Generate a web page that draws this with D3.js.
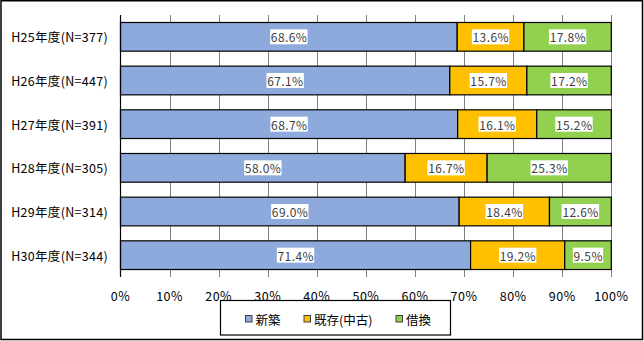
<!DOCTYPE html>
<html>
<head>
<meta charset="utf-8">
<script src="https://cdn.jsdelivr.net/npm/d3@7"></script>
<style>
  html, body { margin: 0; padding: 0; background: #fff; }
  svg { display: block; }
  text { font-family: "Noto Sans CJK JP", "Noto Sans", sans-serif; }
</style>
</head>
<body>
<svg id="chart" width="644" height="341"></svg>
<script>
// Housing acquisition type by fiscal year (%)
const categories = ["H25年度(N=377)", "H26年度(N=447)", "H27年度(N=391)", "H28年度(N=305)", "H29年度(N=314)", "H30年度(N=344)"];
const seriesNames = ["新築", "既存(中古)", "借換"];
const shinchiku = [68.6, 67.1, 68.7, 58.0, 69.0, 71.4];
const kizon = [13.6, 15.7, 16.1, 16.7, 18.4, 19.2];
const karikae = [17.8, 17.2, 15.2, 25.3, 12.6, 9.5];
const tickLabels = ["0%", "10%", "20%", "30%", "40%", "50%", "60%", "70%", "80%", "90%", "100%"];
const colors = ["#8EA9DB", "#FFC000", "#92D050"];

const rows = categories.map((c, i) => ({
  cat: c,
  [seriesNames[0]]: shinchiku[i],
  [seriesNames[1]]: kizon[i],
  [seriesNames[2]]: karikae[i]
}));

const svg = d3.select("#chart");

// outer frame
svg.append("rect")
  .attr("x", 1).attr("y", 0.75).attr("width", 641.5).attr("height", 338.75)
  .attr("fill", "#fff").attr("stroke", "#000").attr("stroke-width", 1.5);

const plot = { left: 120.5, right: 611.3, top: 15, bottom: 277 };

const x = d3.scaleLinear().domain([0, 1]).range([plot.left, plot.right]);
const y = d3.scaleBand().domain(categories).range([plot.top, plot.bottom])
  .paddingInner(0.343).paddingOuter(0.343 / 2);

// vertical gridlines
svg.append("g").selectAll("line")
  .data(d3.range(1, 11).map(v => v / 10))
  .join("line")
  .attr("x1", d => Math.round(x(d)) + 0.5).attr("x2", d => Math.round(x(d)) + 0.5)
  .attr("y1", plot.top).attr("y2", plot.bottom)
  .attr("stroke", "#808080").attr("stroke-width", 1);

// 100% stacked series
const stack = d3.stack().keys(seriesNames).offset(d3.stackOffsetExpand);
const layers = stack(rows);

const gBars = svg.append("g");
layers.forEach((layer, si) => {
  gBars.append("g").selectAll("rect")
    .data(layer)
    .join("rect")
    .attr("x", d => x(d[0]))
    .attr("y", d => y(d.data.cat))
    .attr("width", d => x(d[1]) - x(d[0]))
    .attr("height", y.bandwidth())
    .attr("fill", colors[si])
    .attr("stroke", "#000").attr("stroke-width", 1.2);
});

// y axis line
svg.append("line")
  .attr("x1", plot.left).attr("x2", plot.left)
  .attr("y1", plot.top).attr("y2", plot.bottom)
  .attr("stroke", "#000").attr("stroke-width", 1.2);

// data labels with white boxes
const gLabels = svg.append("g");
layers.forEach((layer, si) => {
  layer.forEach(d => {
    const val = d.data[layer.key];
    const txt = val.toFixed(1) + "%";
    const g = gLabels.append("g");
    const t = g.append("text")
      .attr("font-size", 12)
      .attr("letter-spacing", 0.4)
      .attr("fill", "#404040")
      .attr("text-anchor", "middle")
      .attr("dominant-baseline", "central")
      .text(txt);
    const w = t.node().getComputedTextLength() + 1;
    const x0 = x(d[0]), x1 = x(d[1]);
    let cx = (x0 + x1) / 2;
    if (si === 2) cx = Math.min(cx, x1 - 3 - w / 2);
    const cy = y(d.data.cat) + y.bandwidth() / 2;
    t.attr("x", cx + 0.2).attr("y", cy);
    g.insert("rect", "text")
      .attr("x", cx - w / 2).attr("y", cy - 7.5)
      .attr("width", w).attr("height", 15)
      .attr("fill", "#fff");
  });
});

// category labels
svg.append("g").selectAll("text")
  .data(categories)
  .join("text")
  .attr("x", 108)
  .attr("y", d => y(d) + y.bandwidth() / 2)
  .attr("text-anchor", "end")
  .attr("dominant-baseline", "central")
  .attr("font-size", 12.5)
  .attr("letter-spacing", 0.3)
  .attr("fill", "#000")
  .text(d => d);

// x tick labels
svg.append("g").selectAll("text")
  .data(tickLabels)
  .join("text")
  .attr("x", (d, i) => x(i / 10))
  .attr("y", 295)
  .attr("text-anchor", "middle")
  .attr("dominant-baseline", "central")
  .attr("font-size", 12.5)
  .attr("letter-spacing", 0.5)
  .attr("fill", "#000")
  .text(d => d);

// legend
const legend = svg.append("g");
legend.append("rect")
  .attr("x", 220.5).attr("y", 300.5).attr("width", 230).attr("height", 34.5)
  .attr("fill", "#fff").attr("stroke", "#000").attr("stroke-width", 1.2);
const legendX = [245, 303.5, 395.5];
seriesNames.forEach((name, i) => {
  legend.append("rect")
    .attr("x", legendX[i] + 0.5).attr("y", 315.5)
    .attr("width", 6.5).attr("height", 6.5)
    .attr("fill", colors[i]).attr("stroke", "#404040").attr("stroke-width", 1);
  legend.append("text")
    .attr("x", legendX[i] + 10.5).attr("y", 319)
    .attr("dominant-baseline", "central")
    .attr("font-size", 12.5)
    .attr("fill", "#000")
    .text(name);
});
</script>
</body>
</html>
